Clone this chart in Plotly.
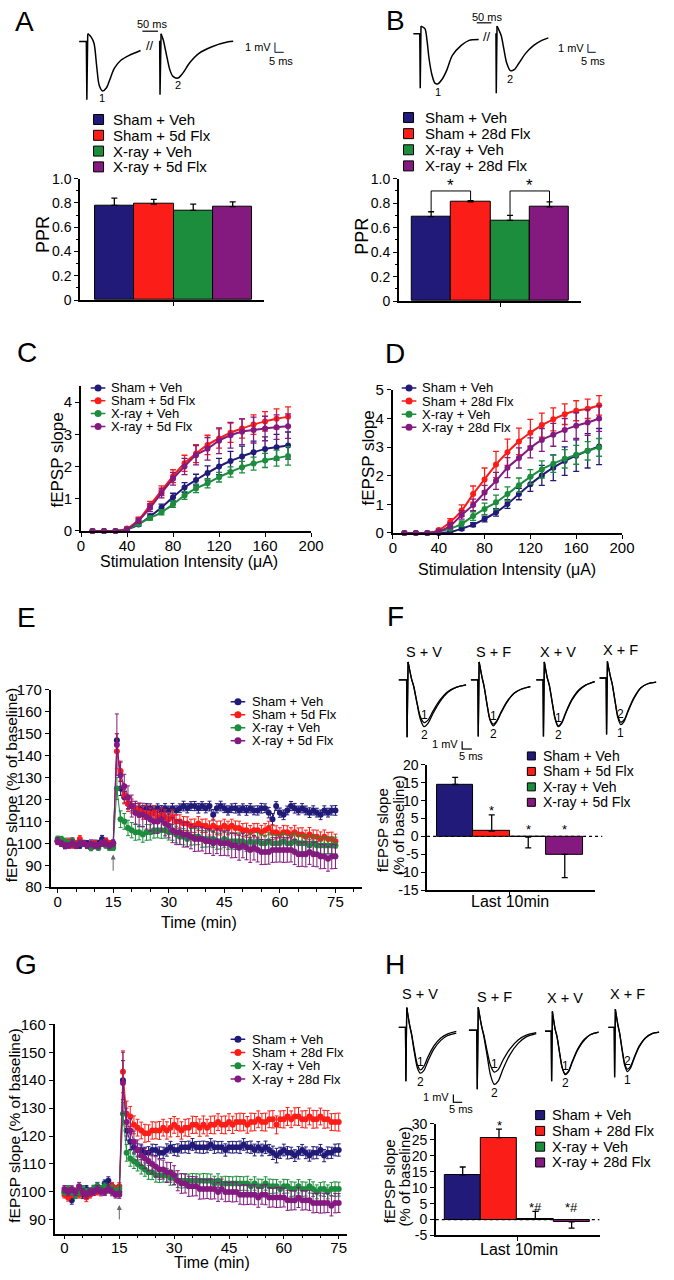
import plotly.graph_objects as go

W, H = 674, 1280
FONT = "Liberation Sans, Arial, Helvetica, sans-serif"

# ======================= DATA =======================
COLORS = ["#211a78", "#fb1d17", "#1c8d3c", "#84197f"]
groups_5d = ["Sham + Veh", "Sham + 5d Flx", "X-ray + Veh", "X-ray + 5d Flx"]
groups_28d = ["Sham + Veh", "Sham + 28d Flx", "X-ray + Veh", "X-ray + 28d Flx"]
trace_labels = ["S + V", "S + F", "X + V", "X + F"]
bar_slots = [0, 1, 2, 3]

# A / B paired-pulse ratio
ppr_5d = [0.78, 0.79, 0.74, 0.77]
ppr_5d_err = [0.06, 0.04, 0.05, 0.04]
ppr_28d = [0.69, 0.81, 0.66, 0.77]
ppr_28d_err = [0.04, 0.01, 0.04, 0.04]
ppr_28d_sig_pairs = [(0, 1), (2, 3)]
ppr_28d_sig_level = [0.90, 0.90]
ppr_tickvals = [0, 0.2, 0.4, 0.6, 0.8, 1.0]
ppr_ticktext = ["0", "0.2", "0.4", "0.6", "0.8", "1.0"]
no_err = [0, 0, 0, 0]

# A / B example paired-pulse traces (ms, mV)
ppA_t1 = [-4.4, -0.3, 0, 0.5, 2.4, 4.1, 5.6, 7.0, 8.9, 11.1, 13, 15.7, 19.4, 24.1, 30.6]
ppA_v1 = [0, 0, -5.9, 0.8, 0.47, -0.2, -2.5, -4.4, -5.0, -4.7, -3.9, -2.7, -1.9, -1.4, -0.9]
ppA_t2 = [-0.5, -0.2, 0, 0.6, 1.9, 3.7, 5.6, 7.4, 10.2, 13, 16.7, 22.2, 29.6, 38.9, 41.7]
ppA_v2 = [0, 0, -5.4, 0.8, 0.13, -1.37, -2.87, -3.53, -3.7, -3.2, -2.2, -1.2, -0.53, -0.03, 0.03]
ppB_t1 = [-4.4, -0.3, 0, 0.5, 3, 4.4, 5.6, 7.5, 9.4, 11.2, 13.8, 16.9, 20.6, 26.3, 31.3, 37.5]
ppB_v1 = [0, 0, -6.5, 0.9, 0.6, -0.9, -2.9, -4.9, -5.9, -6.0, -5.5, -4.4, -2.6, -1.4, -0.8, -0.7]
ppB_t2 = [-0.5, -0.2, 0, 0.5, 3.1, 4.8, 6.7, 9, 11.5, 14.6, 18.8, 24, 29.2, 33.4]
ppB_v2 = [0, 0, -7.1, 0.9, -0.2, -1.76, -3.5, -4.4, -4.3, -3.5, -2.35, -1.4, -0.8, -0.5]

# C / D input-output curves
intensity_uA = [10, 20, 30, 40, 50, 60, 70, 80, 90, 100, 110, 120, 130, 140, 150, 160, 170, 180]
io5_sham_veh = [0, 0, 0, 0.05, 0.2, 0.45, 0.73, 1.05, 1.35, 1.58, 1.8, 2.0, 2.17, 2.31, 2.44, 2.54, 2.6, 2.65]
io5_sham_flx = [0, 0, 0, 0.08, 0.35, 0.8, 1.25, 1.7, 2.1, 2.4, 2.67, 2.87, 3.05, 3.18, 3.3, 3.4, 3.48, 3.54]
io5_xray_veh = [0, 0, 0, 0.05, 0.22, 0.4, 0.58, 0.83, 1.1, 1.32, 1.48, 1.67, 1.83, 1.98, 2.09, 2.19, 2.26, 2.33]
io5_xray_flx = [0, 0, 0, 0.05, 0.32, 0.72, 1.18, 1.62, 2.0, 2.35, 2.55, 2.8, 2.97, 3.08, 3.13, 3.18, 3.22, 3.25]
io5_sham_veh_err = [0, 0, 0, 0.03, 0.05, 0.08, 0.1, 0.12, 0.15, 0.18, 0.22, 0.25, 0.3, 0.32, 0.35, 0.38, 0.4, 0.42]
io5_sham_flx_err = [0, 0, 0, 0.05, 0.08, 0.12, 0.15, 0.2, 0.25, 0.28, 0.3, 0.3, 0.3, 0.3, 0.3, 0.3, 0.31, 0.31]
io5_xray_veh_err = [0, 0, 0, 0.03, 0.05, 0.06, 0.08, 0.1, 0.12, 0.13, 0.14, 0.15, 0.16, 0.18, 0.2, 0.22, 0.25, 0.29]
io5_xray_flx_err = [0, 0, 0, 0.04, 0.08, 0.12, 0.15, 0.2, 0.25, 0.3, 0.35, 0.4, 0.4, 0.4, 0.4, 0.38, 0.38, 0.38]
io28_sham_veh = [0, 0, 0, 0, 0.03, 0.15, 0.29, 0.49, 0.72, 1.01, 1.36, 1.7, 2.01, 2.28, 2.51, 2.7, 2.87, 3.02]
io28_sham_flx = [0, 0, 0, 0.1, 0.38, 0.78, 1.36, 1.87, 2.39, 2.82, 3.2, 3.5, 3.77, 3.97, 4.15, 4.27, 4.34, 4.46]
io28_xray_veh = [0, 0, 0, 0.05, 0.15, 0.32, 0.59, 0.84, 1.07, 1.36, 1.67, 1.96, 2.22, 2.42, 2.59, 2.73, 2.87, 2.99]
io28_xray_flx = [0, 0, 0, 0.05, 0.25, 0.63, 0.98, 1.41, 1.82, 2.28, 2.62, 2.97, 3.25, 3.43, 3.6, 3.75, 3.86, 4.0]
io28_sham_veh_err = [0, 0, 0, 0.02, 0.04, 0.05, 0.07, 0.1, 0.13, 0.15, 0.2, 0.25, 0.35, 0.45, 0.5, 0.55, 0.6, 0.63]
io28_sham_flx_err = [0, 0, 0, 0.05, 0.12, 0.2, 0.28, 0.4, 0.46, 0.46, 0.46, 0.47, 0.42, 0.4, 0.36, 0.35, 0.34, 0.34]
io28_xray_veh_err = [0, 0, 0, 0.03, 0.06, 0.1, 0.15, 0.2, 0.25, 0.25, 0.25, 0.25, 0.3, 0.3, 0.32, 0.33, 0.32, 0.31]
io28_xray_flx_err = [0, 0, 0, 0.05, 0.1, 0.15, 0.2, 0.25, 0.3, 0.35, 0.35, 0.35, 0.4, 0.4, 0.4, 0.45, 0.45, 0.45]
io5_yticks = [0, 1, 2, 3, 4]
io28_yticks = [0, 1, 2, 3, 4, 5]
io_xticks = [0, 40, 80, 120, 160, 200]

# E / G LTP time courses (% of baseline), one point per minute
time_min = list(range(0, 76))
ltp_xticks = [0, 15, 30, 45, 60, 75]
E_sham_veh = [101, 100, 99, 100, 101, 100, 99, 100, 100, 99, 100, 100, 102, 101, 100, 100,
              147, 125, 121, 118, 117, 116, 116, 115, 116, 116,
              115, 116, 115, 116, 115, 116, 115, 116, 117, 116,
              117, 117, 116, 117, 116, 117, 113, 116, 117, 116,
              115, 116, 116, 115, 116, 115, 116, 115, 115, 116,
              116, 114, 111, 117, 114, 113, 115, 117, 116, 115,
              116, 115, 114, 115, 114, 113, 115, 114, 115, 115]
E_sham_flx = [101, 100, 100, 101, 99, 100, 102, 100, 99, 98, 100, 99, 100, 101, 100, 99,
              142, 133, 122, 118, 117, 116, 115, 114, 114, 113,
              114, 112, 113, 112, 111, 112, 110, 110, 109, 109,
              108, 108, 109, 108, 108, 107, 108, 107, 107, 108,
              107, 108, 107, 107, 106, 106, 105, 106, 106, 105,
              106, 107, 105, 105, 104, 105, 105, 104, 105, 104,
              104, 103, 104, 103, 103, 102, 103, 102, 102, 101]
E_xray_veh = [102, 102, 101, 100, 101, 99, 100, 100, 99, 98, 99, 98, 100, 99, 98, 98,
              125, 111, 110, 107, 106, 105, 105, 104, 105, 105,
              106, 106, 106, 106, 105, 105, 104, 103, 103, 102,
              103, 103, 103, 102, 102, 102, 102, 101, 101, 102,
              101, 101, 101, 101, 101, 100, 101, 100, 101, 100,
              100, 101, 100, 100, 100, 101, 100, 100, 101, 100,
              100, 100, 99, 100, 99, 99, 99, 99, 99, 99]
E_xray_flx = [101, 100, 99, 99, 100, 99, 100, 100, 99, 100, 99, 99, 100, 100, 99, 100,
              145, 131, 126, 121, 117, 114, 113, 113, 112, 111,
              110, 110, 111, 109, 108, 106, 105, 105, 104, 104,
              103, 102, 102, 102, 101, 101, 100, 101, 100, 100,
              100, 99, 99, 98, 99, 98, 97, 98, 97, 96,
              96, 96, 97, 97, 97, 97, 97, 97, 96, 95,
              95, 95, 96, 95, 95, 94, 94, 93, 94, 94]
E_sham_veh_err = [1.5, 1.2, 1.4, 1.3, 1.5, 1.2, 1.3, 1.4, 1.2, 1.3, 1.5, 1.4, 1.6, 1.3, 1.2, 1.4,
                  3.0, 3.2, 2.6, 2.4, 2.2, 2.1, 2.0, 2.2, 2.1, 2.0,
                  2.1, 2.0, 2.2, 2.1, 2.0, 2.2, 2.1, 2.0, 2.2, 2.1,
                  2.0, 2.1, 2.2, 2.0, 2.1, 2.2, 2.4, 2.1, 2.2, 2.0,
                  2.1, 2.0, 2.2, 2.1, 2.0, 2.2, 2.1, 2.0, 2.1, 2.2,
                  2.0, 2.4, 2.6, 2.0, 2.1, 2.2, 2.0, 2.1, 2.2, 2.0,
                  2.1, 2.0, 2.2, 2.1, 2.0, 2.2, 2.1, 2.0, 2.1, 2.2]
E_sham_flx_err = [1.2, 1.3, 1.1, 1.4, 1.2, 1.3, 1.5, 1.2, 1.3, 1.1, 1.2, 1.3, 1.2, 1.4, 1.2, 1.3,
                  8.0, 4.5, 4.0, 3.5, 3.2, 3.0, 3.2, 3.0, 3.1, 3.0,
                  3.2, 3.0, 3.1, 3.3, 3.0, 3.2, 3.1, 3.0, 3.2, 3.1,
                  3.0, 3.1, 3.2, 3.0, 3.1, 3.2, 3.0, 3.1, 3.2, 3.0,
                  3.1, 3.0, 3.2, 3.1, 3.0, 3.2, 3.1, 3.0, 3.1, 3.2,
                  3.0, 3.1, 3.2, 3.0, 3.1, 3.2, 3.0, 3.1, 3.2, 3.0,
                  3.1, 3.0, 3.2, 3.1, 3.0, 3.2, 3.1, 3.0, 3.1, 3.2]
E_xray_veh_err = [1.3, 1.2, 1.4, 1.3, 1.2, 1.4, 1.3, 1.2, 1.3, 1.4, 1.2, 1.3, 1.4, 1.2, 1.3, 1.2,
                  5.0, 3.8, 3.6, 3.5, 3.5, 3.6, 3.4, 3.5, 3.6, 3.5,
                  3.6, 3.5, 3.7, 3.6, 3.5, 3.6, 3.8, 3.6, 3.7, 3.6,
                  3.8, 3.7, 3.6, 3.8, 3.7, 3.6, 3.8, 3.7, 3.6, 3.8,
                  3.7, 3.6, 3.8, 3.7, 3.6, 3.8, 3.7, 3.6, 3.8, 3.7,
                  3.6, 3.8, 3.7, 3.6, 3.8, 3.7, 3.6, 3.8, 3.7, 3.6,
                  3.8, 3.7, 3.6, 3.8, 3.7, 3.6, 3.8, 3.7, 3.6, 3.8]
E_xray_flx_err = [1.6, 1.4, 1.5, 1.3, 1.6, 1.4, 1.5, 1.3, 1.4, 1.6, 1.5, 1.4, 1.3, 1.5, 1.4, 1.6,
                  14.0, 6.0, 5.5, 5.2, 5.0, 5.2, 5.4, 5.3, 5.5, 5.4,
                  5.6, 5.5, 5.4, 5.6, 5.5, 5.7, 5.6, 5.5, 5.7, 5.6,
                  5.5, 5.7, 5.6, 5.5, 5.7, 5.6, 5.5, 5.7, 5.6, 5.5,
                  5.7, 5.6, 5.5, 5.7, 5.6, 5.5, 5.7, 5.6, 5.5, 5.7,
                  5.6, 5.5, 5.7, 5.6, 5.5, 5.7, 5.6, 5.5, 5.7, 5.6,
                  5.5, 5.7, 5.6, 5.5, 5.7, 5.6, 5.5, 5.7, 5.6, 5.5]

G_sham_veh = [100, 99, 97, 99, 100, 99, 101, 100, 101, 102, 101, 103, 104, 102, 101, 100,
              140, 122, 118, 116, 115, 115, 114, 114, 115, 115,
              114, 114, 115, 116, 115, 115, 116, 116, 116, 117,
              116, 116, 116, 116, 117, 116, 116, 116, 115, 116,
              116, 116, 116, 117, 116, 116, 115, 116, 115, 116,
              115, 114, 113, 114, 115, 114, 114, 113, 114, 115,
              114, 113, 114, 114, 115, 113, 114, 114, 115, 115]
G_sham_flx = [99, 98, 99, 100, 99, 100, 98, 99, 100, 100, 101, 100, 101, 102, 101, 102,
              143, 128, 127, 124, 123, 122, 121, 121, 122, 122,
              122, 123, 122, 123, 124, 123, 122, 123, 123, 124,
              124, 123, 124, 123, 124, 124, 125, 124, 124, 125,
              124, 125, 125, 125, 124, 125, 125, 126, 125, 125,
              126, 126, 124, 126, 126, 127, 126, 127, 127, 126,
              126, 127, 126, 126, 127, 126, 126, 125, 125, 125]
G_xray_veh = [100, 101, 100, 99, 100, 101, 100, 100, 101, 102, 101, 102, 101, 101, 100, 101,
              128, 114, 112, 111, 110, 109, 108, 107, 107, 106,
              106, 106, 106, 105, 105, 104, 104, 104, 104, 104,
              104, 104, 104, 104, 104, 103, 104, 103, 103, 103,
              103, 103, 103, 103, 103, 102, 103, 102, 102, 103,
              102, 102, 102, 101, 102, 102, 101, 101, 102, 101,
              101, 102, 101, 100, 101, 101, 100, 101, 101, 101]
G_xray_flx = [101, 100, 101, 100, 102, 100, 99, 100, 100, 101, 100, 100, 101, 100, 99, 99,
              139, 125, 122, 118, 115, 113, 112, 111, 110, 109,
              108, 108, 107, 107, 106, 104, 103, 103, 102, 102,
              102, 101, 101, 101, 101, 101, 100, 101, 100, 100,
              100, 100, 99, 99, 99, 99, 99, 98, 99, 99,
              98, 98, 98, 98, 98, 97, 97, 97, 98, 97,
              97, 97, 96, 96, 96, 96, 96, 95, 96, 96]
G_sham_veh_err = [1.3, 1.2, 1.4, 1.3, 1.2, 1.4, 1.3, 1.2, 1.3, 1.4, 1.2, 1.3, 1.4, 1.2, 1.3, 1.2,
                  7.0, 3.5, 2.8, 2.4, 2.2, 2.1, 2.0, 2.2, 2.1, 2.0,
                  2.1, 2.0, 2.2, 2.1, 2.0, 2.2, 2.1, 2.0, 2.2, 2.1,
                  2.0, 2.1, 2.2, 2.0, 2.1, 2.2, 2.0, 2.1, 2.2, 2.0,
                  2.1, 2.0, 2.2, 2.1, 2.0, 2.2, 2.1, 2.0, 2.1, 2.2,
                  2.0, 2.4, 2.6, 2.0, 2.1, 2.2, 2.0, 2.1, 2.2, 2.0,
                  2.1, 2.0, 2.2, 2.1, 2.0, 2.2, 2.1, 2.0, 2.1, 2.2]
G_sham_flx_err = [1.2, 1.3, 1.1, 1.4, 1.2, 1.3, 1.5, 1.2, 1.3, 1.1, 1.2, 1.3, 1.2, 1.4, 1.2, 1.3,
                  7.5, 4.5, 3.6, 3.2, 3.0, 3.0, 3.2, 3.0, 3.1, 3.0,
                  3.2, 3.0, 3.1, 3.3, 3.0, 3.2, 3.1, 3.0, 3.2, 3.1,
                  3.0, 3.1, 3.2, 3.0, 3.1, 3.2, 3.0, 3.1, 3.2, 3.0,
                  3.1, 3.0, 3.2, 3.1, 3.0, 3.2, 3.1, 3.0, 3.1, 3.2,
                  3.0, 3.1, 3.2, 3.0, 3.1, 3.2, 3.0, 3.1, 3.2, 3.0,
                  3.1, 3.0, 3.2, 3.1, 3.0, 3.2, 3.1, 3.0, 3.1, 3.2]
G_xray_veh_err = [1.2, 1.3, 1.2, 1.4, 1.2, 1.3, 1.2, 1.3, 1.4, 1.2, 1.3, 1.2, 1.4, 1.3, 1.2, 1.3,
                  4.0, 3.0, 2.8, 2.6, 2.5, 2.6, 2.4, 2.5, 2.6, 2.5,
                  2.6, 2.5, 2.4, 2.6, 2.5, 2.4, 2.6, 2.5, 2.4, 2.6,
                  2.5, 2.4, 2.6, 2.5, 2.4, 2.6, 2.5, 2.4, 2.6, 2.5,
                  2.4, 2.6, 2.5, 2.4, 2.6, 2.5, 2.4, 2.6, 2.5, 2.4,
                  2.6, 2.5, 2.4, 2.6, 2.5, 2.4, 2.6, 2.5, 2.4, 2.6,
                  2.5, 2.4, 2.6, 2.5, 2.4, 2.6, 2.5, 2.4, 2.6, 2.5]
G_xray_flx_err = [1.3, 1.4, 1.2, 1.3, 1.4, 1.2, 1.3, 1.4, 1.2, 1.3, 1.4, 1.2, 1.3, 1.4, 1.2, 1.3,
                  11.0, 5.0, 4.2, 3.8, 3.6, 3.5, 3.6, 3.4, 3.5, 3.6,
                  3.5, 3.4, 3.6, 3.5, 3.4, 3.6, 3.5, 3.4, 3.6, 3.5,
                  3.4, 3.6, 3.5, 3.4, 3.6, 3.5, 3.4, 3.6, 3.5, 3.4,
                  3.6, 3.5, 3.4, 3.6, 3.5, 3.4, 3.6, 3.5, 3.4, 3.6,
                  3.5, 3.4, 3.6, 3.5, 3.4, 3.6, 3.5, 3.4, 3.6, 3.5,
                  3.4, 3.6, 3.5, 3.4, 3.6, 3.5, 3.4, 3.6, 3.5, 3.4]
E_yticks = [80, 90, 100, 110, 120, 130, 140, 150, 160, 170]
G_yticks = [90, 100, 110, 120, 130, 140, 150, 160]
tetanus_min = 15

# F / H last-10-min summary (% change of baseline)
last10_5d = [14.5, 1.5, -0.2, -5.0]
last10_5d_err_up = [2.0, 4.5, 0, 0]
last10_5d_err_dn = [0, 0, 3.0, 6.5]
last10_5d_sig = ["", "*", "*", "*"]
last10_5d_sig_y = [0, 8.0, 2.8, 2.8]
last10_28d = [14.0, 25.7, 0.3, -0.7]
last10_28d_err_up = [2.5, 2.7, 2.3, 0]
last10_28d_err_dn = [0, 0, 0, 2.0]
last10_28d_sig = ["", "*", "*#", "*#"]
last10_28d_sig_y = [0, 30.6, 4.6, 4.6]
F_yticks = [-15, -10, -5, 0, 5, 10, 15, 20]
F_yticktext = ["-15", "-10", "-5", "0", "5", "10", "15", "20"]
H_yticks = [-5, 0, 5, 10, 15, 20, 25, 30]
H_yticktext = ["-5", "0", "5", "10", "15", "20", "25", "30"]

# F / H example fEPSP traces before (1) and after (2) LTP induction (ms, mV)
wave_t_ms = [-5, -0.3, 0, 0.6, 2.6, 4, 6, 8, 10.2, 12.6, 15.6, 19.6, 24.6, 29.5, 35.5]
F_SV_1 = [0, 0, -7.0, 2.2, 0.2, -0.8, -2.8, -4.5, -5.2, -4.9, -3.8, -2.5, -1.4, -0.9, -0.6]
F_SV_2 = [0, 0, -7.0, 2.2, 0.2, -0.8, -2.9, -4.8, -5.7, -5.3, -4.1, -2.7, -1.5, -0.9, -0.6]
F_SF_1 = [0, 0, -6.9, 2.2, 0.3, -0.8, -3.0, -4.8, -5.4, -5.0, -3.9, -2.6, -1.6, -1.1, -0.8]
F_SF_2 = [0, 0, -6.9, 2.2, 0.3, -0.8, -3.0, -4.9, -5.6, -5.1, -4.0, -2.7, -1.6, -1.1, -0.8]
F_XV_1 = [0, 0, -6.9, 2.2, 0.3, -0.6, -2.6, -4.6, -5.6, -5.2, -3.9, -2.4, -1.2, -0.6, -0.2]
F_XV_2 = [0, 0, -6.9, 2.2, 0.3, -0.6, -2.7, -4.7, -5.7, -5.3, -4.0, -2.5, -1.3, -0.6, -0.2]
F_XF_1 = [0, 0, -6.9, 2.0, 0.3, -0.7, -2.8, -4.8, -5.7, -5.3, -4.0, -2.5, -1.2, -0.7, -0.5]
F_XF_2 = [0, 0, -6.9, 2.0, 0.3, -0.7, -2.7, -4.6, -5.4, -5.1, -3.9, -2.4, -1.2, -0.7, -0.5]
H_SV_1 = [0, 0, -6.6, 2.4, 0.3, -0.8, -2.8, -4.5, -5.2, -4.8, -3.6, -2.3, -1.3, -0.8, -0.5]
H_SV_2 = [0, 0, -6.6, 2.4, 0.3, -0.9, -3.1, -4.9, -5.6, -5.3, -4.1, -2.7, -1.6, -1.0, -0.7]
H_SF_1 = [0, 0, -7.2, 2.8, 0.5, -0.6, -2.6, -4.3, -5.1, -4.8, -3.6, -2.3, -1.2, -0.6, -0.3]
H_SF_2 = [0, 0, -7.2, 2.8, 0.5, -0.8, -3.2, -5.5, -6.6, -6.2, -4.7, -3.0, -1.6, -0.8, -0.4]
H_XV_1 = [0, 0, -6.1, 2.4, 0.3, -0.6, -2.6, -4.4, -5.2, -4.9, -3.7, -2.2, -1.0, -0.4, -0.1]
H_XV_2 = [0, 0, -6.1, 2.4, 0.3, -0.6, -2.6, -4.5, -5.3, -5.0, -3.8, -2.3, -1.1, -0.4, -0.1]
H_XF_1 = [0, 0, -6.1, 2.2, 0.3, -0.7, -2.8, -4.6, -5.4, -5.0, -3.8, -2.4, -1.3, -0.8, -0.6]
H_XF_2 = [0, 0, -6.1, 2.2, 0.3, -0.7, -2.7, -4.4, -5.1, -4.8, -3.7, -2.3, -1.3, -0.8, -0.6]

# ======================= FIGURE =======================
fig = go.Figure()
layout = {}
annotations = []
shapes = []
_n = [0]


def add_axes(l, r, t, b, xr, yr, xstyle=None, ystyle=None):
    _n[0] += 1
    k = _n[0]
    s = "" if k == 1 else str(k)
    xa = dict(domain=[l / W, r / W], range=xr, anchor="y" + s, fixedrange=True)
    ya = dict(domain=[1 - b / H, 1 - t / H], range=yr, anchor="x" + s, fixedrange=True)
    xa.update(xstyle if xstyle else dict(visible=False))
    ya.update(ystyle if ystyle else dict(visible=False))
    layout["xaxis" + s] = xa
    layout["yaxis" + s] = ya
    return "x" + s, "y" + s


def y_paper(yref, v):
    ax = layout["yaxis" + yref[1:]]
    d0, d1 = ax["domain"]
    r0, r1 = ax["range"]
    return d0 + (v - r0) / (r1 - r0) * (d1 - d0)


def axis_style(**kw):
    d = dict(visible=True, showline=True, linecolor="black", linewidth=1.6,
             ticks="outside", ticklen=4, tickwidth=1.3, tickcolor="black",
             showgrid=False, zeroline=False,
             tickfont=dict(family=FONT, size=14, color="black"))
    d.update(kw)
    return d


def ann(x, y, s, xref="paper", yref="paper", size=14, xanchor="center", yanchor="middle", angle=0, **kw):
    d = dict(x=x, y=y, xref=xref, yref=yref, text=s, showarrow=False, xanchor=xanchor,
             yanchor=yanchor, textangle=angle, font=dict(family=FONT, size=size, color="black"))
    d.update(kw)
    annotations.append(d)


def pann(px, py, s, **kw):
    ann(px / W, 1 - py / H, s, **kw)


def pline(x0, y0, x1, y1, width=1.2, color="black"):
    shapes.append(dict(type="line", xref="paper", yref="paper", x0=x0 / W, y0=1 - y0 / H,
                       x1=x1 / W, y1=1 - y1 / H, line=dict(color=color, width=width)))


def add_legend(swatch_x, text_x, rows, names, kind, size=14, sw=10):
    sp = (rows[-1] - rows[0]) / (len(rows) - 1)
    top, bot = rows[0] - sp / 2, rows[-1] + sp / 2
    l, r = swatch_x - 12, min(swatch_x + 140, W)
    xa, ya = add_axes(l, r, top, bot, [l - swatch_x, r - swatch_x], [len(names) - 0.5, -0.5])
    for i, (name, col) in enumerate(zip(names, COLORS)):
        if kind == "square":
            fig.add_trace(go.Scatter(x=[0], y=[i], mode="markers", cliponaxis=False, hoverinfo="skip",
                                     marker=dict(symbol="square", size=sw, color=col,
                                                 line=dict(color="black", width=1)),
                                     xaxis=xa, yaxis=ya))
        else:
            fig.add_trace(go.Scatter(x=[-7.5, 7.5], y=[i, i], mode="lines", hoverinfo="skip",
                                     line=dict(color=col, width=1.5), xaxis=xa, yaxis=ya))
            fig.add_trace(go.Scatter(x=[0], y=[i], mode="markers", cliponaxis=False, hoverinfo="skip",
                                     marker=dict(size=7, color=col), xaxis=xa, yaxis=ya))
        ann(text_x - swatch_x, i, name, xref=xa, yref=ya, size=size, xanchor="left")


def draw_wave(t, v, xa, ya, width=1.4, offset=0.0):
    xs = [ti + offset for ti in t]
    fig.add_trace(go.Scatter(x=xs[:4], y=v[:4], mode="lines", hoverinfo="skip",
                             line=dict(color="black", width=width), xaxis=xa, yaxis=ya))
    fig.add_trace(go.Scatter(x=xs[3:], y=v[3:], mode="lines", hoverinfo="skip",
                             line=dict(color="black", width=width, shape="spline", smoothing=0.8),
                             xaxis=xa, yaxis=ya))


def trace_axes(l, r, t, b, x0px, y0px, pxms, pxmv):
    return add_axes(l, r, t, b, [(l - x0px) / pxms, (r - x0px) / pxms],
                    [(y0px - b) / pxmv, (y0px - t) / pxmv])


def bar_panel(box, xr, vals, up, dn, yr, ystyle, xtick):
    xa, ya = add_axes(*box, xr, yr,
                      xstyle=axis_style(tickvals=[xtick], ticktext=[""]),
                      ystyle=axis_style(**ystyle))
    fig.add_trace(go.Bar(x=bar_slots, y=vals, width=1, hoverinfo="skip",
                         marker=dict(color=COLORS, line=dict(color="black", width=1)),
                         error_y=dict(type="data", symmetric=False, array=up, arrayminus=dn,
                                      color="black", thickness=1.3, width=3),
                         xaxis=xa, yaxis=ya))
    return xa, ya


# ---------- panel A ----------
bar_panel((78, 267, 172, 295), [-0.87, 3.8], ppr_5d, ppr_5d_err, no_err, [0, 1],
          dict(tickvals=ppr_tickvals, ticktext=ppr_ticktext,
               minor=dict(ticks="outside", ticklen=2, dtick=0.1, tickcolor="black", tickwidth=1)), 1.5)
pann(40, 228, "PPR", size=18, angle=-90)
add_legend(97, 110, [112, 128, 144, 160], groups_5d, "square", size=15, sw=10)

xa, ya = trace_axes(70, 295, 10, 100, 85, 33, 1.8, 10)
A_offset = 41.7
draw_wave(ppA_t1, ppA_v1, xa, ya, width=1.5)
draw_wave(ppA_t2, ppA_v2, xa, ya, width=1.5, offset=A_offset)
for lab, t, v, off in (("1", ppA_t1, ppA_v1, 0), ("2", ppA_t2, ppA_v2, A_offset)):
    k = v.index(min(v[3:]))
    ann(t[k] + off, min(v[3:]) - 0.75, lab, xref=xa, yref=ya, size=11)
ann((ppA_t1[-1] + ppA_t2[0] + A_offset) / 2, (ppA_v1[-1] + ppA_v2[0]) / 2, "//", xref=xa, yref=ya, size=13)
shapes.append(dict(type="line", xref=xa, yref=ya, x0=107.2, x1=107.2, y0=-1.1, y1=-0.1, line=dict(width=1.2)))
shapes.append(dict(type="line", xref=xa, yref=ya, x0=107.2, x1=112.2, y0=-1.1, y1=-1.1, line=dict(width=1.2)))
ann(106.2, -0.6, "1 mV", xref=xa, yref=ya, size=11, xanchor="right")
ann(110.5, -2.0, "5 ms", xref=xa, yref=ya, size=11)
pann(152, 15, "50 ms", size=11)
pline(142, 22.5, 158, 22.5)

# ---------- panel B ----------
xa, ya = bar_panel((405, 592, 172, 296), [-0.82, 3.8], ppr_28d, ppr_28d_err, no_err, [0, 1],
                   dict(tickvals=ppr_tickvals, ticktext=ppr_ticktext,
                        minor=dict(ticks="outside", ticklen=2, dtick=0.1, tickcolor="black", tickwidth=1)), 1.77)
for (i, j), lvl in zip(ppr_28d_sig_pairs, ppr_28d_sig_level):
    fig.add_trace(go.Scatter(x=[i, i, j, j],
                             y=[ppr_28d[i] + ppr_28d_err[i], lvl, lvl, ppr_28d[j] + ppr_28d_err[j]],
                             mode="lines", line=dict(color="black", width=1), hoverinfo="skip",
                             xaxis=xa, yaxis=ya, cliponaxis=False))
    ann((i + j) / 2, lvl, "*", xref=xa, yref=ya, size=17, yanchor="bottom", yshift=-6)
pann(367, 230, "PPR", size=18, angle=-90)
add_legend(415, 430, [110, 127, 143, 159], groups_28d, "square", size=15, sw=10)

xa, ya = trace_axes(410, 617, 2, 92, 427, 25, 1.6, 8.5)
B_offset = 48.75
draw_wave(ppB_t1, ppB_v1, xa, ya, width=1.5)
draw_wave(ppB_t2, ppB_v2, xa, ya, width=1.5, offset=B_offset)
for lab, t, v, off in (("1", ppB_t1, ppB_v1, 0), ("2", ppB_t2, ppB_v2, B_offset)):
    k = v.index(min(v[3:]))
    ann(t[k] + off, min(v[3:]) - 0.95, lab, xref=xa, yref=ya, size=11)
ann((ppB_t1[-1] + ppB_t2[0] + B_offset) / 2, (ppB_v1[-1] + ppB_v2[0]) / 2, "//", xref=xa, yref=ya, size=13)
shapes.append(dict(type="line", xref=xa, yref=ya, x0=107.5, x1=107.5, y0=-2.24, y1=-1.24, line=dict(width=1.2)))
shapes.append(dict(type="line", xref=xa, yref=ya, x0=107.5, x1=112.5, y0=-2.24, y1=-2.24, line=dict(width=1.2)))
ann(106.3, -1.76, "1 mV", xref=xa, yref=ya, size=11, xanchor="right")
ann(110.6, -3.2, "5 ms", xref=xa, yref=ya, size=11)
pann(496, 8, "50 ms", size=11)
pline(485, 14, 500, 14)


# ---------- panels C / D ----------
def io_panel(box, yr, yticks, means, errs):
    xa, ya = add_axes(*box, [0, 200], yr,
                      xstyle=axis_style(tickvals=io_xticks, linewidth=2, ticklabelstandoff=-4,
                                        tickfont=dict(family=FONT, size=15)),
                      ystyle=axis_style(tickvals=yticks, linewidth=2, tickfont=dict(family=FONT, size=15)))
    for m, e, col in zip(means, errs, COLORS):
        fig.add_trace(go.Scatter(x=intensity_uA, y=m, mode="lines+markers", cliponaxis=False,
                                 line=dict(color=col, width=2, shape="spline", smoothing=1.0),
                                 marker=dict(size=6, color=col), hoverinfo="skip",
                                 error_y=dict(type="data", array=e, color=col, thickness=1.3, width=3),
                                 xaxis=xa, yaxis=ya))


io_panel((79, 315, 382, 529), [0, 4.5], io5_yticks,
         [io5_sham_veh, io5_sham_flx, io5_xray_veh, io5_xray_flx],
         [io5_sham_veh_err, io5_sham_flx_err, io5_xray_veh_err, io5_xray_flx_err])
add_legend(96.5, 108, [384, 397, 410, 423], groups_5d, "line", size=13)
pann(55, 457, "fEPSP slope", size=17, angle=-90)
pann(190, 560, "Stimulation Intensity (μA)", size=16)

io_panel((399, 634, 386, 531), [0, 5], io28_yticks,
         [io28_sham_veh, io28_sham_flx, io28_xray_veh, io28_xray_flx],
         [io28_sham_veh_err, io28_sham_flx_err, io28_xray_veh_err, io28_xray_flx_err])
add_legend(415.5, 427, [384, 397.3, 410.6, 424], groups_28d, "line", size=13)
pann(374, 455, "fEPSP slope", size=17, angle=-90)
pann(516, 568, "Stimulation Intensity (μA)", size=16)


# ---------- panels E / G ----------
def ltp_panel(box, xr, yr, yticks, means, errs, arrow):
    xa, ya = add_axes(*box, xr, yr,
                      xstyle=axis_style(tickvals=ltp_xticks, linewidth=1.8, ticklabelstandoff=-4,
                                        tickfont=dict(family=FONT, size=15),
                                        minor=dict(ticks="outside", ticklen=2.5, dtick=5, tick0=0,
                                                   tickcolor="black", tickwidth=1)),
                      ystyle=axis_style(tickvals=yticks, linewidth=1.8, tickfont=dict(family=FONT, size=15)))
    for m, e, col in zip(means, errs, COLORS):
        fig.add_trace(go.Scatter(x=time_min, y=m, mode="lines+markers", cliponaxis=False,
                                 line=dict(color=col, width=1), marker=dict(size=6, color=col),
                                 error_y=dict(type="data", array=e, color=col, thickness=1, width=2),
                                 hoverinfo="skip", xaxis=xa, yaxis=ya))
    annotations.append(dict(x=tetanus_min, y=arrow[0], ax=tetanus_min, ay=arrow[1], xref=xa, yref=ya,
                            axref=xa, ayref=ya, showarrow=True, arrowhead=2, arrowsize=1,
                            arrowwidth=1, arrowcolor="#666666", text=""))


ltp_panel((48, 367, 690, 890), [-1.84, 82.1], [80, 170], E_yticks,
          [E_sham_veh, E_sham_flx, E_xray_veh, E_xray_flx],
          [E_sham_veh_err, E_sham_flx_err, E_xray_veh_err, E_xray_flx_err], (94.9, 86.8))
add_legend(240, 252, [702, 715.2, 728.4, 741.6], groups_5d, "line", size=13)
pann(8, 787, "fEPSP slope (% of baseline)", size=15.5, angle=-90)
pann(200, 926, "Time (min)", size=16)

ltp_panel((52, 352, 1029, 1241), [-2.67, 77.3], [85.1, 160], G_yticks,
          [G_sham_veh, G_sham_flx, G_xray_veh, G_xray_flx],
          [G_sham_veh_err, G_sham_flx_err, G_xray_veh_err, G_xray_flx_err], (95.3, 89.6))
add_legend(240, 252, [1044, 1057.5, 1071, 1084.5], groups_28d, "line", size=13)
pann(11, 1132, "fEPSP slope (% of baseline)", size=15.5, angle=-90)
pann(213, 1270.5, "Time (min)", size=16)


# ---------- panels F / H ----------
def summary_panel(box, xr, yr, zero_right, vals, up, dn, sig, sig_y, yticks, yticktext):
    zx, zy = add_axes(box[0], zero_right, box[2], box[3], [0, 1], yr)
    fig.add_trace(go.Scatter(x=[0, 1], y=[0, 0], mode="lines", hoverinfo="skip",
                             line=dict(color="black", width=1.3, dash="3px,3px"), xaxis=zx, yaxis=zy))
    xa, ya = bar_panel(box, xr, vals, up, dn, yr,
                       dict(tickvals=yticks, ticktext=yticktext), 1.5)
    for i, (s, yv) in enumerate(zip(sig, sig_y)):
        if s:
            ann(i, y_paper(ya, yv), s, xref=xa, yref="paper", size=13, yshift=-3)


def wave_group(boxes, pairs, pxmv, label_v):
    for (xs, xe, yb), (w1, w2), lab in zip(boxes, pairs, trace_labels):
        pad = 2
        s = (xe - xs) / (wave_t_ms[-1] - wave_t_ms[0])
        vlo, vhi = -8.2, label_v + 1.2
        xa, ya = add_axes(xs - pad, xe + pad, yb - vhi * pxmv, yb - vlo * pxmv,
                          [wave_t_ms[0] - pad / s, wave_t_ms[-1] + pad / s], [vlo, vhi])
        draw_wave(wave_t_ms, w1, xa, ya, width=1.3)
        draw_wave(wave_t_ms, w2, xa, ya, width=1.3)
        m1, m2 = min(w1[3:]), min(w2[3:])
        k1, k2 = w1.index(m1), w2.index(m2)
        if m1 >= m2:
            ann(wave_t_ms[k1], m1 + 0.95, "1", xref=xa, yref=ya, size=12)
            ann(wave_t_ms[k2], m2 - 1.05, "2", xref=xa, yref=ya, size=12)
        else:
            ann(wave_t_ms[k2], m2 + 0.95, "2", xref=xa, yref=ya, size=12)
            ann(wave_t_ms[k1], m1 - 1.05, "1", xref=xa, yref=ya, size=12)
        ann(wave_t_ms[k1], label_v, lab, xref=xa, yref=ya, size=14.5)


summary_panel((434, 606, 766, 893), [-0.77, 3.82], [-15, 20], 614,
              last10_5d, last10_5d_err_up, last10_5d_err_dn, last10_5d_sig, last10_5d_sig_y,
              F_yticks, F_yticktext)
pann(389, 832, "fEPSP slope", size=15, angle=-90)
pann(404.5, 827, "(% of baseline)", size=15, angle=-90)
pann(519, 905, "Last 10min", size=16)
add_legend(541, 551, [757, 772.7, 788.3, 804], groups_5d, "square", size=14, sw=8)
wave_group([(405, 474, 680), (479, 540, 680), (546, 606, 680), (611, 669, 678)],
           [(F_SV_1, F_SV_2), (F_SF_1, F_SF_2), (F_XV_1, F_XV_2), (F_XF_1, F_XF_2)], 8.3, 3.4)
pline(470, 742, 470, 750.5)
pline(470, 750, 480, 750)
pann(468, 745, "1 mV", size=11, xanchor="right")
pann(479, 757, "5 ms", size=11)

summary_panel((443, 611, 1130, 1243), [-0.74, 3.77], [-5, 30], 611,
              last10_28d, last10_28d_err_up, last10_28d_err_dn, last10_28d_sig, last10_28d_sig_y,
              H_yticks, H_yticktext)
pann(395, 1188, "fEPSP slope", size=15, angle=-90)
pann(410.5, 1183, "(% of baseline)", size=15, angle=-90)
pann(528, 1257, "Last 10min", size=16)
add_legend(550, 560, [1121, 1137, 1153, 1169], groups_28d, "square", size=14.5, sw=9)
wave_group([(405, 464, 1032), (477, 546, 1035), (555, 610, 1036), (620, 672, 1032)],
           [(H_SV_1, H_SV_2), (H_SF_1, H_SF_2), (H_XV_1, H_XV_2), (H_XF_1, H_XF_2)], 8.3, 4.1)
pline(461, 1100, 461, 1108.5)
pline(461, 1108, 470, 1108)
pann(459, 1103, "1 mV", size=11, xanchor="right")
pann(469, 1115, "5 ms", size=11)

# ---------- panel letters ----------
panel_letters = ["A", "B", "C", "D", "E", "F", "G", "H"]
letter_px = [(9, 12.5), (390, 12), (11, 348), (389, 349), (11, 617), (391, 616), (9, 968), (389, 968)]
for L, (px, py) in zip(panel_letters, letter_px):
    pann(px, py, L, size=28, xanchor="left")

layout.update(dict(width=W, height=H, margin=dict(l=0, r=0, t=0, b=0),
                   paper_bgcolor="white", plot_bgcolor="rgba(0,0,0,0)", showlegend=False,
                   font=dict(family=FONT, color="black", size=14),
                   annotations=annotations, shapes=shapes, bargap=0))
fig.update_layout(**layout)
fig.write_html("out.html", config={"displayModeBar": False},
               post_script="document.body.style.margin='0';document.body.style.overflow='hidden';")
